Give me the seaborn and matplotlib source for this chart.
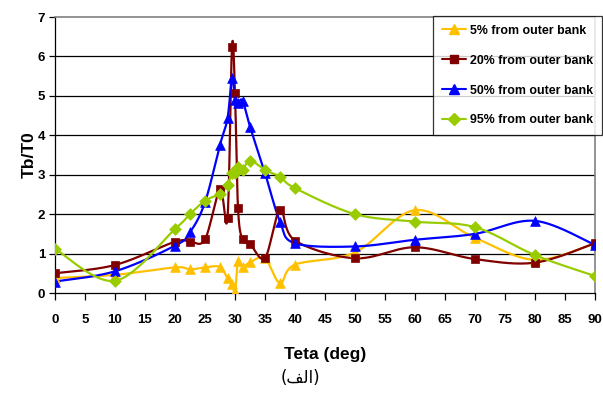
import numpy as np
import pandas as pd
import matplotlib
matplotlib.use("Agg")
import matplotlib.pyplot as plt
from matplotlib.lines import Line2D
import seaborn as sns

# ---- data ----
teta = [0, 10, 20, 22.5, 25, 27.5, 28.75, 29.5, 30, 30.5, 31.25, 32.5, 35, 37.5, 40, 50, 60, 70, 80, 90]
s5 = [0.38, 0.46, 0.65, 0.60, 0.65, 0.66, 0.37, 0.24, 0.02, 0.80, 0.66, 0.78, 0.88, 0.25, 0.72, 1.03, 2.10, 1.40, 0.84, 1.26]
s20 = [0.50, 0.71, 1.30, 1.30, 1.36, 2.63, 1.91, 6.25, 5.07, 2.16, 1.36, 1.25, 0.89, 2.10, 1.33, 0.88, 1.16, 0.86, 0.77, 1.26]
s50 = [0.29, 0.55, 1.20, 1.54, 2.30, 3.76, 4.43, 5.45, 4.90, 4.81, 4.88, 4.22, 3.04, 1.81, 1.26, 1.18, 1.35, 1.50, 1.83, 1.22]
s95 = [1.12, 0.31, 1.62, 2.00, 2.34, 2.52, 2.74, 3.04, 3.05, 3.20, 3.12, 3.36, 3.12, 2.95, 2.66, 2.00, 1.81, 1.67, 0.96, 0.43]
series_names = ["5% from outer bank", "20% from outer bank", "50% from outer bank", "95% from outer bank"]
series_vals = [s5, s20, s50, s95]
colors = ["#FFC000", "#800000", "#0000FF", "#99CC00"]
markers = ["^", "s", "^", "D"]
msizes = [7, 6, 7, 6]
x_ticks = list(range(0, 91, 5))
y_ticks = list(range(0, 8))
xlabel = "Teta (deg)"
ylabel = "Tb/T0"
caption = "(\uFED2\uFEDF\uFE8D)"  # (الف) in Arabic presentation forms (visual order)

sns.set_theme(style="white")
fam = ["Liberation Sans", "DejaVu Sans"]
plt.rcParams["font.family"] = fam
for k in ["text.color", "axes.labelcolor", "xtick.color", "ytick.color"]:
    plt.rcParams[k] = "black"

fig = plt.figure(figsize=(6.03, 4.01), dpi=100)
ax = fig.add_axes([55 / 603, 1 - 293 / 401, 540 / 603, 276 / 401])

XS, YS = 540 / 90.0, 276 / 7.0


def smooth(xs, ys, n=30):
    # Excel-like smoothed line (Catmull-Rom / Bezier) in display proportions
    px = np.asarray(xs, float) * XS
    py = np.asarray(ys, float) * YS
    P = np.column_stack([px, py])
    P = np.vstack([P[0], P, P[-1]])
    out = []
    for i in range(1, len(P) - 2):
        p0, p1, p2, p3 = P[i - 1], P[i], P[i + 1], P[i + 2]
        c1 = p1 + (p2 - p0) / 6.0
        c2 = p2 - (p3 - p1) / 6.0
        t = np.linspace(0, 1, n)[:, None]
        seg = ((1 - t) ** 3) * p1 + 3 * ((1 - t) ** 2) * t * c1 + 3 * (1 - t) * t ** 2 * c2 + t ** 3 * p2
        out.append(seg if i == 1 else seg[1:])
    out = np.vstack(out)
    return out[:, 0] / XS, out[:, 1] / YS


rows = []
for name, vals in zip(series_names, series_vals):
    for xv, yv in zip(teta, vals):
        rows.append({"teta": xv, "val": yv, "series": name})
df = pd.DataFrame(rows)

for name, vals, c in zip(series_names, series_vals, colors):
    sx, sy = smooth(teta, vals)
    ax.plot(sx, sy, color=c, lw=1.6, zorder=3, solid_joinstyle="round")

for name, c, m, ms in zip(series_names, colors, markers, msizes):
    sub = df[df["series"] == name]
    sns.scatterplot(data=sub, x="teta", y="val", ax=ax, color=c, marker=m,
                    s=(ms * 1.0) ** 2, edgecolor=c, linewidth=0.5, zorder=4, legend=False)

ax.set_xlim(0, 90)
ax.set_ylim(0, 7)
ax.set_xticks(x_ticks)
ax.set_yticks(y_ticks)
ax.set_xticklabels([str(t) for t in x_ticks], fontweight="bold", fontsize=9.5)
ax.set_yticklabels([str(t) for t in y_ticks], fontweight="bold", fontsize=9.5)
for yv in y_ticks[1:-1]:
    ax.axhline(yv, color="black", lw=0.9, zorder=1)
ax.grid(False)
ax.tick_params(axis="x", direction="out", length=5, width=0.9, color="black", pad=10, bottom=True)
ax.tick_params(axis="y", direction="out", length=4, width=0.9, color="black", pad=3, left=True)
for side in ["left", "bottom"]:
    ax.spines[side].set_color("black")
    ax.spines[side].set_linewidth(0.9)
for side in ["top", "right"]:
    ax.spines[side].set_color("#808080")
    ax.spines[side].set_linewidth(1.2)

ax.set_xlabel(xlabel, fontweight="bold", fontsize=12.5, labelpad=15)
ax.set_ylabel(ylabel, fontweight="bold", fontsize=12.5, labelpad=1)

handles = [Line2D([0], [0], color=c, marker=m, markersize=ms, lw=1.5, markeredgecolor=c)
           for c, m, ms in zip(colors, markers, msizes)]
leg = fig.legend(handles, series_names, loc="upper left",
                 bbox_to_anchor=(433 / 603, 1 - 16 / 401), frameon=True, fancybox=False,
                 prop={"weight": "bold", "size": 8.9, "family": fam},
                 handlelength=2.0, handletextpad=0.3, labelspacing=1.45, borderpad=0.7,
                 borderaxespad=0)
leg.get_frame().set_edgecolor("black")
leg.get_frame().set_linewidth(0.9)
leg.get_frame().set_facecolor("white")

fig.text(300 / 603, 1 - 378 / 401, caption, ha="center", va="center", fontsize=12,
         family=["DejaVu Sans"])

fig.savefig("out.png", dpi=100, facecolor="white")
